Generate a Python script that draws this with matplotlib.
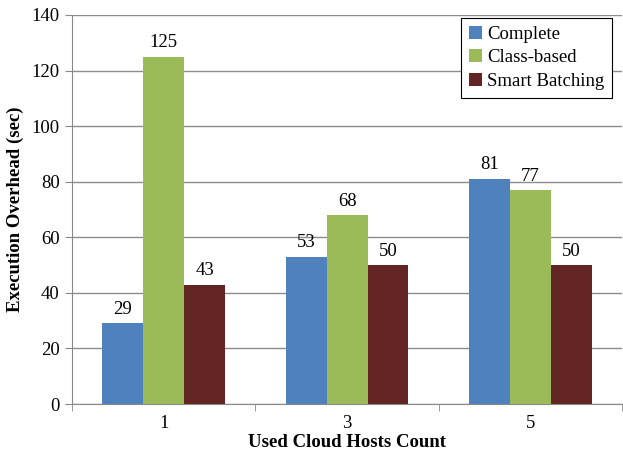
import numpy as np
import matplotlib.pyplot as plt

plt.rcParams['font.family'] = ['Liberation Serif', 'DejaVu Serif']

hosts = ["1", "3", "5"]
complete = [29, 53, 81]
class_based = [125, 68, 77]
smart_batching = [43, 50, 50]

series = [("Complete", complete, "#4F81BD"),
          ("Class-based", class_based, "#9BBB59"),
          ("Smart Batching", smart_batching, "#632523")]

fig = plt.figure(figsize=(6.23, 4.54), dpi=100)
ax = fig.add_axes([0.1156, 0.110, 0.883, 0.857])

x = np.arange(len(hosts))
w = 0.223
for i, (name, vals, col) in enumerate(series):
    pos = x + (i - 1) * w
    ax.bar(pos, vals, w, color=col, label=name, zorder=3)
    for p, v in zip(pos, vals):
        ax.text(p, v + 2, str(v), ha="center", va="bottom", fontsize=13.5)

ax.set_xlim(-0.5, 2.5)
ax.set_ylim(0, 140)
ax.set_yticks(range(0, 141, 20))
ax.set_xticks(x)
ax.set_xticklabels(hosts)
ax.set_xticks([-0.5, 0.5, 1.5, 2.5], minor=True)
ax.tick_params(axis="x", which="major", length=0, labelsize=13.5, pad=8)
ax.tick_params(axis="x", which="minor", length=5, color="#888888")
ax.tick_params(axis="y", length=5, color="#888888", labelsize=13.5, pad=4)
ax.grid(axis="y", color="#8c8c8c", linewidth=1, zorder=0)
for s in ["top", "right"]:
    ax.spines[s].set_visible(False)
for s in ["left", "bottom"]:
    ax.spines[s].set_color("#888888")

ax.set_xlabel("Used Cloud Hosts Count", fontsize=13.5, fontweight="bold", labelpad=1)
ax.set_ylabel("Execution Overhead (sec)", fontsize=13.5, fontweight="bold", labelpad=5)

leg = ax.legend(loc="upper right", bbox_to_anchor=(0.982, 0.992), fontsize=13.5,
                borderaxespad=0, fancybox=False, framealpha=1, edgecolor="black",
                handlelength=0.7, handleheight=0.7, handletextpad=0.3,
                labelspacing=0.35, borderpad=0.4)
leg.get_frame().set_linewidth(0.8)

fig.savefig("out.png", dpi=100)
